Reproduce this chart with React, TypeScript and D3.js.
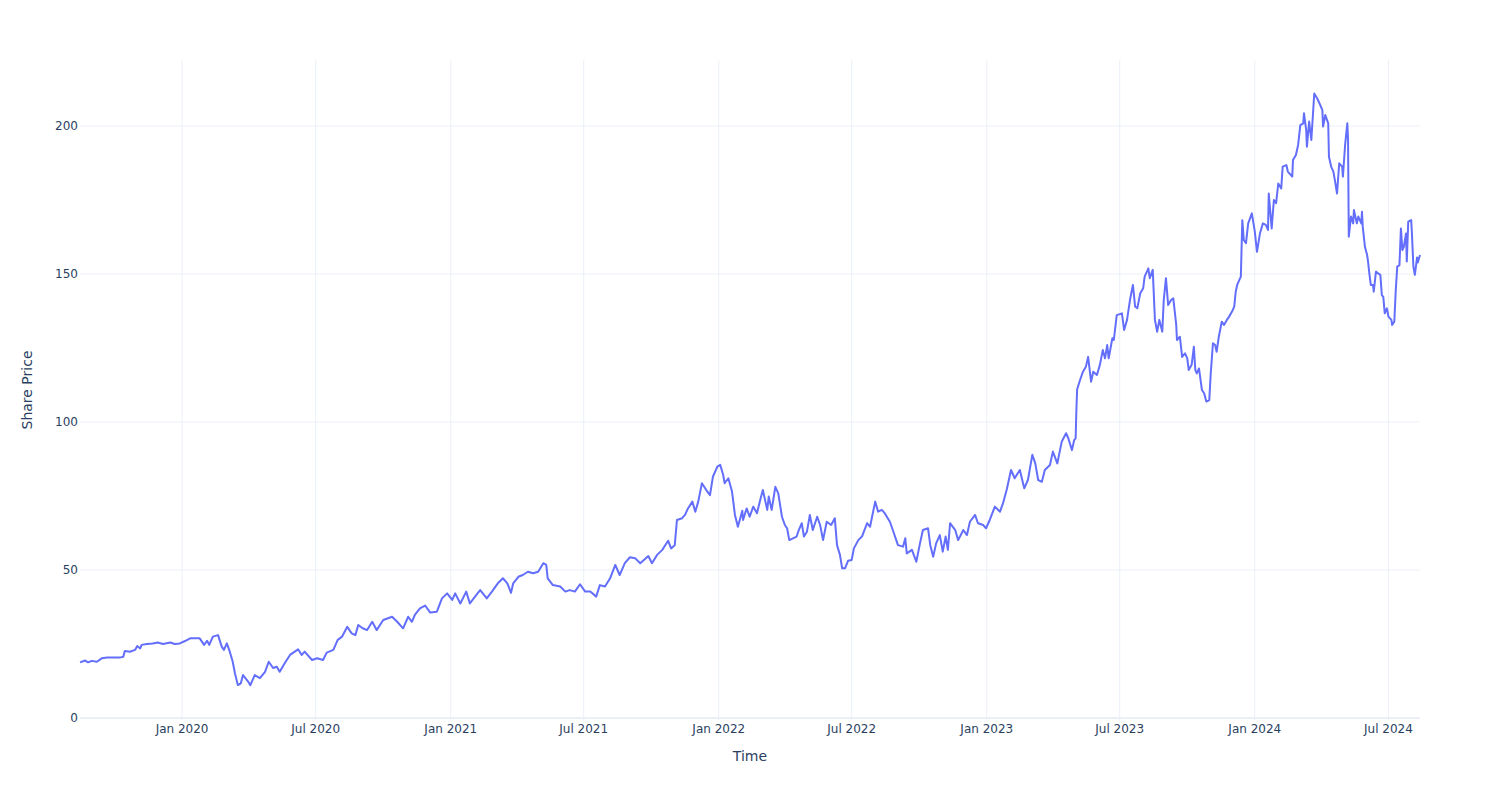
import React from "react";
import * as d3 from "d3";

// Days since the first trading day shown (2019-08-15)
const startDate = new Date(2019, 7, 15);

const dayOffsets = [
  0, 7, 11, 16, 23, 30, 37, 45, 54, 59, 61, 68, 75, 78, 82, 84, 91, 99, 106, 113, 123, 129, 136, 143, 150, 157, 163, 169, 173, 176,
  181, 188, 193, 196, 200, 204, 208, 211, 215, 219, 222, 229, 232, 238, 245, 252, 257, 263, 268, 272, 279, 286, 297, 302, 306, 316,
  323, 331, 336, 345, 351, 357, 364, 370, 375, 379, 385, 391, 398, 404, 413, 425, 432, 440, 447, 452, 456, 463, 470, 477, 486, 493,
  500, 507, 511, 518, 526, 531, 538, 545, 554, 561, 569, 576, 582, 587, 590, 597, 603, 610, 617, 624, 631, 635, 637, 644, 654, 661,
  667, 674, 681, 688, 695, 703, 708, 715, 722, 729, 735, 742, 749, 756, 763, 768, 774, 779, 786, 793, 801, 805, 810, 813, 820, 824,
  828, 834, 838, 842, 847, 853, 858, 862, 868, 872, 876, 878, 883, 888, 892, 896, 902, 903, 908, 912, 917, 922, 927, 930, 936, 938,
  942, 947, 951, 956, 960, 963, 966, 971, 976, 979, 983, 986, 990, 994, 998, 1004, 1008, 1012, 1017, 1023, 1028, 1031, 1035, 1038,
  1042, 1046, 1051, 1054, 1060, 1065, 1072, 1076, 1083, 1087, 1092, 1096, 1103, 1107, 1114, 1121, 1124, 1126, 1133, 1139, 1144, 1148,
  1155, 1158, 1162, 1166, 1171, 1175, 1179, 1182, 1185, 1192, 1196, 1203, 1208, 1212, 1219, 1223, 1230, 1234, 1239, 1246, 1253, 1257,
  1262, 1268, 1273, 1280, 1286, 1291, 1297, 1301, 1305, 1310, 1314, 1321, 1325, 1331, 1337, 1343, 1346, 1351, 1354, 1356, 1357, 1358,
  1362, 1366, 1370, 1373, 1377, 1380, 1385, 1389, 1393, 1396, 1399, 1401, 1406, 1408, 1412, 1419, 1422, 1426, 1430, 1434, 1437, 1440,
  1444, 1448, 1450, 1455, 1457, 1461, 1464, 1467, 1470, 1474, 1476, 1479, 1482, 1486, 1489, 1493, 1494, 1498, 1501, 1505, 1508, 1510,
  1514, 1517, 1519, 1521, 1524, 1528, 1531, 1534, 1538, 1540, 1543, 1546, 1548, 1551, 1555, 1558, 1562, 1565, 1569, 1572, 1574, 1576,
  1579, 1581, 1583, 1585, 1588, 1591, 1596, 1600, 1603, 1607, 1611, 1615, 1618, 1619, 1623, 1626, 1629, 1632, 1636, 1638, 1643, 1645,
  1651, 1652, 1656, 1659, 1662, 1666, 1667, 1670, 1671, 1674, 1677, 1681, 1685, 1688, 1692, 1693, 1696, 1700, 1701, 1704, 1707, 1709,
  1712, 1715, 1719, 1720, 1723, 1726, 1727, 1728, 1731, 1734, 1735, 1739, 1741, 1745, 1746, 1747, 1750, 1753, 1754, 1756, 1758, 1761,
  1762, 1765, 1768, 1771, 1773, 1775, 1777, 1780, 1782, 1786, 1787, 1790, 1792, 1794, 1797, 1799, 1801, 1803, 1806, 1807, 1809, 1813,
  1814, 1816, 1818, 1821, 1822, 1825,
];

const sharePrices = [
  18.8, 19.4, 18.8, 19.3, 19.0, 20.2, 20.4, 20.4, 20.4, 20.7, 22.6, 22.4, 23.0, 24.3, 23.5, 24.7, 25.0, 25.2, 25.5, 25.0, 25.5, 25.0, 25.2, 26.0, 26.9, 26.9, 26.9, 24.7, 26.1, 24.7,
  27.5, 28.0, 24.1, 23.0, 25.2, 22.4, 19.0, 15.1, 11.1, 11.7, 14.5, 12.3, 11.1, 14.5, 13.5, 15.6, 19.0, 16.9, 17.3, 15.6, 18.6, 21.3, 23.2, 21.3, 22.4, 19.6,
  20.2, 19.6, 22.1, 23.0, 26.4, 27.5, 30.8, 28.6, 28.0, 31.4, 30.3, 29.7, 32.5, 29.7, 33.1, 34.2, 32.5, 30.3, 34.2, 32.5, 34.8, 37.0, 38.0, 35.6, 35.9, 40.4,
  42.1, 39.9, 42.1, 38.7, 42.7, 38.7, 41.0, 43.2, 40.4, 42.7, 45.5, 47.2, 45.5, 42.3, 45.5, 47.7, 48.3, 49.4, 48.9, 49.4, 52.3, 51.7, 47.2, 44.9, 44.4, 42.7,
  43.2, 42.7, 45.2, 42.7, 42.7, 41.0, 44.9, 44.4, 47.2, 51.7, 48.3, 52.3, 54.3, 54.0, 52.3, 53.4, 54.7, 52.3, 55.1, 56.8, 59.9, 57.3, 58.4, 66.9, 67.5, 68.6,
  70.8, 73.1, 69.7, 73.1, 79.3, 77.0, 75.3, 81.5, 84.9, 85.5, 82.1, 79.3, 81.0, 76.5, 68.6, 64.6, 70.0, 66.9, 70.8, 68.0, 71.4, 69.2, 74.2, 77.0, 70.3, 74.8,
  70.3, 78.1, 75.9, 68.0, 65.2, 64.1, 60.1, 60.7, 61.3, 63.5, 65.8, 61.3, 62.9, 68.6, 63.5, 68.0, 65.2, 60.1, 66.3, 65.2, 67.5, 58.4, 55.1, 50.6,
  50.6, 53.1, 53.4, 57.3, 60.1, 61.3, 65.8, 64.6, 73.1, 69.7, 70.3, 69.2, 66.3, 63.5, 58.4, 57.9, 60.7, 55.6, 56.8, 52.8, 59.0, 63.5,
  64.1, 58.4, 54.5, 59.0, 61.8, 56.2, 61.3, 56.8, 65.8, 63.5, 60.1, 63.5, 61.8, 66.3, 68.6, 65.8, 65.2, 64.1, 66.9, 71.4, 69.7, 72.5,
  77.0, 83.8, 81.0, 83.8, 77.6, 80.4, 88.9, 86.0, 80.4, 79.8, 83.8, 85.5, 90.0, 86.0, 93.3, 96.2, 94.5, 90.5, 93.9, 94.5, 104.0, 111.0,
  114.2, 117.0, 118.7, 122.0, 113.6, 117.0, 115.9, 119.3, 124.3, 121.5, 126.0, 121.5, 128.3, 127.7, 136.1, 136.7, 131.1, 134.5, 141.2, 146.3, 139.0, 138.4,
  143.5, 145.2, 149.1, 151.9, 148.6, 151.4, 134.5, 130.5, 134.5, 130.5, 141.2, 148.6, 139.5, 141.2, 141.8, 132.8, 127.7, 128.8, 122.0, 123.2, 121.5, 117.6,
  119.3, 125.4, 117.6, 116.4, 118.1, 110.8, 109.7, 106.9, 107.4, 116.4, 126.6, 126.0, 123.7, 128.8, 133.9, 132.8, 134.5, 135.6, 137.3, 139.0, 144.0, 146.3,
  148.0, 149.1, 168.2, 161.5, 160.4, 167.1, 170.5, 164.3, 157.5, 163.7, 167.1, 166.6, 164.9, 177.2, 165.4, 175.0, 173.9, 180.6, 178.9, 186.3, 186.8, 184.6,
  182.9, 188.5, 190.2, 193.6, 200.3, 200.9, 204.3, 198.6, 193.0, 201.5, 195.3, 211.0, 209.3, 207.7, 205.4, 199.8, 203.7, 200.9, 189.6, 186.3, 184.6, 181.8,
  177.2, 187.4, 186.3, 182.9, 193.6, 200.9, 195.3, 162.6, 169.4, 167.1, 171.6, 167.1, 169.4, 167.1, 171.0, 166.0, 159.2, 156.4, 154.7, 150.2, 146.3, 146.3,
  144.0, 150.8, 150.2, 149.7, 142.9, 142.3, 136.7, 138.4, 135.6, 134.5, 132.8, 133.9, 144.6, 152.5, 153.0, 165.4, 158.1, 159.2, 163.7, 154.2, 167.7, 168.2,
  163.7, 152.5, 149.7, 155.6, 153.9, 156.4,
];

const yTicks = [0, 50, 100, 150, 200];
const yDomain = [-0.68, 222.3];
const xTitle = "Time";
const yTitle = "Share Price";

const W = 1500;
const H = 800;
const M = { left: 80, right: 80, top: 60, bottom: 80 };
const FONT = "'DejaVu Sans', Verdana, sans-serif";
const TEXT = "#2a3f5f";
const GRID = "#EBF0F8";
const LINE = "#636efa";

export default function App() {
  const dates = dayOffsets.map((d) => d3.timeDay.offset(startDate, d));
  const data = dates.map((d, i) => ({ date: d, value: sharePrices[i] }));

  const x = d3
    .scaleTime()
    .domain([dates[0], dates[dates.length - 1]])
    .range([M.left, W - M.right]);
  const y = d3.scaleLinear().domain(yDomain).range([H - M.bottom, M.top]);

  const xTicks = x.ticks(d3.timeMonth.every(6));
  const fmt = d3.timeFormat("%b %Y");

  const line = d3
    .line<{ date: Date; value: number }>()
    .x((d) => x(d.date))
    .y((d) => y(d.value));

  return (
    <svg
      width={W}
      height={H}
      style={{ position: "absolute", left: 0, top: 0, background: "#fff" }}
      fontFamily={FONT}
    >
      <rect x={0} y={0} width={W} height={H} fill="#fff" />
      {xTicks.map((t, i) => (
        <line key={"gx" + i} x1={x(t)} x2={x(t)} y1={M.top} y2={H - M.bottom} stroke={GRID} strokeWidth={1} />
      ))}
      {yTicks
        .filter((v) => v !== 0)
        .map((v) => (
          <line key={"gy" + v} x1={M.left} x2={W - M.right} y1={y(v)} y2={y(v)} stroke={GRID} strokeWidth={1} />
        ))}
      <line x1={M.left} x2={W - M.right} y1={y(0)} y2={y(0)} stroke={GRID} strokeWidth={2} />

      <path d={line(data) || ""} fill="none" stroke={LINE} strokeWidth={2} strokeLinejoin="round" />

      {yTicks.map((v) => (
        <text key={"ty" + v} x={M.left - 2} y={y(v)} dy="0.35em" textAnchor="end" fontSize={12} fill={TEXT}>
          {v}
        </text>
      ))}
      {xTicks.map((t, i) => (
        <text key={"tx" + i} x={x(t)} y={H - M.bottom + 13} textAnchor="middle" fontSize={12} fill={TEXT}>
          {fmt(t)}
        </text>
      ))}

      <text x={(M.left + W - M.right) / 2} y={761} textAnchor="middle" fontSize={14} fill={TEXT}>
        {xTitle}
      </text>
      <text
        transform={`translate(32,${(M.top + H - M.bottom) / 2}) rotate(-90)`}
        textAnchor="middle"
        fontSize={14}
        fill={TEXT}
      >
        {yTitle}
      </text>
    </svg>
  );
}
